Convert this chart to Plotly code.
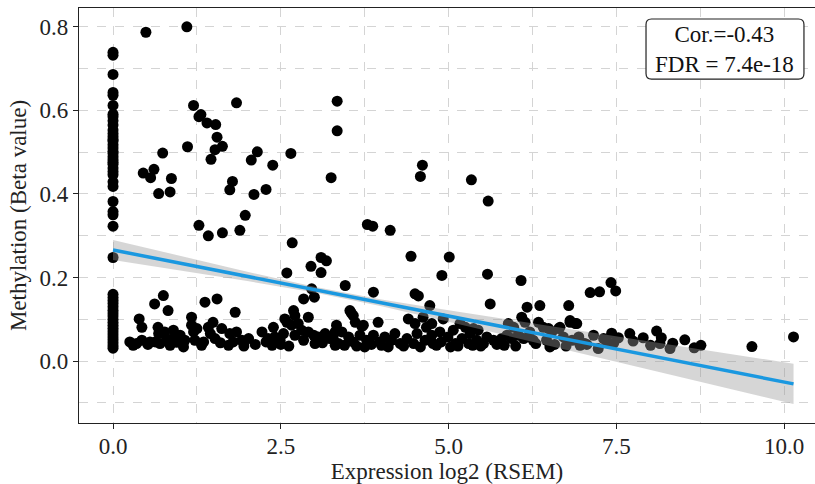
import plotly.graph_objects as go

# ---- data: samples with zero expression ----
expr_zero = [0.0] * 48
meth_zero = [0.739, 0.732, 0.686, 0.643, 0.636, 0.612, 0.591, 0.585, 0.575, 0.565,
             0.553, 0.545, 0.537, 0.530, 0.527, 0.518, 0.510, 0.502, 0.497, 0.489,
             0.482, 0.476, 0.471, 0.462, 0.454, 0.446, 0.429, 0.418, 0.382, 0.358,
             0.350, 0.323, 0.248, 0.160, 0.152, 0.145, 0.138, 0.130, 0.122, 0.115,
             0.108, 0.100, 0.093, 0.086, 0.079, 0.072, 0.058, 0.031]
expr_zero += [0.0, 0.0, 0.0, 0.0]
meth_zero += [0.065, 0.051, 0.044, 0.037]

# ---- data: highly methylated samples ----
expr_high = [0.49, 1.10, 1.20, 1.28, 1.31, 1.40, 1.53, 1.55, 1.63, 1.52,
             1.46, 1.11, 1.84, 0.74, 0.61, 0.45, 0.56, 0.87, 0.68, 0.85,
             2.15, 2.06, 2.38, 2.65, 1.78, 1.74, 2.10, 2.28, 1.97, 1.28,
             1.42, 1.63, 1.89, 2.67, 3.34, 3.34, 3.25, 4.61, 4.58, 5.34,
             5.59, 3.79, 3.87, 4.13, 4.44, 5.01, 2.59, 2.95, 3.10, 3.18,
             3.10, 4.90, 5.58, 6.08, 3.46, 3.88, 4.50, 4.55, 7.42, 7.11,
             7.25, 7.49]
meth_high = [0.787, 0.800, 0.612, 0.585, 0.590, 0.570, 0.566, 0.536, 0.514, 0.506,
             0.483, 0.513, 0.618, 0.498, 0.459, 0.450, 0.439, 0.437, 0.401, 0.405,
             0.501, 0.481, 0.469, 0.497, 0.430, 0.410, 0.399, 0.411, 0.349, 0.325,
             0.300, 0.307, 0.313, 0.283, 0.622, 0.551, 0.439, 0.469, 0.442, 0.434,
             0.383, 0.327, 0.323, 0.313, 0.251, 0.249, 0.211, 0.227, 0.248, 0.240,
             0.212, 0.205, 0.208, 0.193, 0.181, 0.165, 0.161, 0.156, 0.188, 0.164,
             0.166, 0.168]

# ---- data: low methylation band ----
expr_low = [0.75, 0.62, 0.82, 0.39, 0.43, 0.30, 0.25, 0.43, 0.55, 0.67,
            0.68, 0.77, 0.80, 0.90, 0.92, 0.70, 0.63, 0.85, 1.05, 1.07,
            1.17, 1.17, 1.20, 1.22, 1.25, 1.37, 1.55, 1.42, 1.49, 1.45,
            1.62, 1.52, 1.35, 1.82, 1.74, 1.84, 1.72, 1.79, 1.92, 2.02,
            2.22, 2.31, 2.39, 2.44, 2.37, 2.84, 3.00, 2.96, 2.69, 2.71,
            2.56, 2.59, 2.91, 2.66, 2.76, 2.81, 2.91, 2.99, 3.06, 3.16,
            3.23, 3.31, 3.31, 3.01, 2.41, 2.49, 2.54, 2.84, 2.71,
            3.53, 3.58, 3.61, 3.73, 3.95, 3.33, 3.41, 3.28, 3.36, 3.51,
            3.58, 3.68, 3.78, 3.75, 3.88, 3.98, 4.05, 4.15, 4.20, 4.10,
            4.28, 4.40, 4.38, 4.50, 4.53, 4.48, 4.62, 4.72, 4.67, 4.65,
            4.75, 4.77, 4.87, 4.92, 4.89, 4.99, 5.07, 5.10, 5.20, 5.17,
            5.25, 5.32, 5.30, 5.42, 5.44, 5.52, 5.62, 5.57, 5.67, 5.79,
            5.87, 5.89, 5.97, 5.94, 6.04, 6.09, 6.12, 6.17, 6.21, 6.26,
            6.34, 6.36, 6.41, 6.46, 6.51, 6.54, 6.66, 6.71, 6.79, 6.81,
            6.89, 6.84, 6.94, 3.55, 4.75, 5.37, 6.14, 6.49, 6.64, 3.71,
            6.91, 7.16, 7.31, 7.43, 7.53, 7.70, 7.75, 7.90, 8.01, 8.10,
            8.17, 8.15, 8.34, 8.30, 8.52, 8.66, 8.76, 9.52, 10.14, 6.96,
            7.03, 7.23, 7.36, 7.46, 6.81,
            0.35, 0.52, 0.95, 1.00, 1.32, 1.60, 1.95, 2.12, 2.28, 2.50,
            2.62, 3.12, 3.45, 3.63, 3.85, 4.00, 4.33, 4.58, 4.82, 5.03,
            5.14, 5.36, 5.48, 5.72, 5.83, 6.00, 6.30, 6.58, 6.75, 7.06]
meth_low = [0.157, 0.137, 0.121, 0.101, 0.081, 0.038, 0.046, 0.050, 0.046, 0.081,
            0.066, 0.070, 0.054, 0.074, 0.058, 0.042, 0.046, 0.038, 0.034, 0.050,
            0.105, 0.086, 0.070, 0.050, 0.078, 0.141, 0.149, 0.081, 0.093, 0.066,
            0.078, 0.054, 0.046, 0.117, 0.066, 0.070, 0.038, 0.046, 0.050, 0.054,
            0.070, 0.054, 0.081, 0.046, 0.038, 0.149, 0.153, 0.173, 0.121, 0.109,
            0.101, 0.093, 0.105, 0.086, 0.090, 0.074, 0.070, 0.062, 0.058, 0.066,
            0.054, 0.070, 0.038, 0.042, 0.058, 0.050, 0.066, 0.050, 0.062,
            0.121, 0.109, 0.093, 0.086, 0.093, 0.086, 0.070, 0.058, 0.042, 0.058,
            0.046, 0.062, 0.050, 0.034, 0.062, 0.046, 0.058, 0.050, 0.066, 0.034,
            0.042, 0.101, 0.054, 0.090, 0.066, 0.042, 0.105, 0.133, 0.081, 0.050,
            0.062, 0.042, 0.070, 0.101, 0.046, 0.058, 0.074, 0.042, 0.054, 0.090,
            0.081, 0.066, 0.042, 0.050, 0.074, 0.042, 0.137, 0.058, 0.050, 0.054,
            0.062, 0.090, 0.081, 0.054, 0.062, 0.105, 0.054, 0.129, 0.070, 0.050,
            0.093, 0.133, 0.081, 0.050, 0.034, 0.070, 0.081, 0.058, 0.133, 0.093,
            0.090, 0.050, 0.058, 0.115, 0.090, 0.078, 0.093, 0.078, 0.078, 0.083,
            0.090, 0.062, 0.054, 0.067, 0.056, 0.066, 0.048, 0.056, 0.038, 0.072,
            0.056, 0.042, 0.043, 0.030, 0.051, 0.032, 0.038, 0.035, 0.058, 0.038,
            0.042, 0.030, 0.046, 0.043, 0.097,
            0.042, 0.040, 0.045, 0.062, 0.038, 0.044, 0.036, 0.040, 0.046, 0.040,
            0.036, 0.044, 0.038, 0.036, 0.040, 0.038, 0.036, 0.034, 0.038, 0.034,
            0.036, 0.038, 0.036, 0.040, 0.038, 0.036, 0.042, 0.040, 0.036, 0.040]

# ---- linear fit with 95% confidence band ----
fit_x = [0, 1, 2, 3, 4, 5, 6, 7, 8, 9, 10.14]
fit_y = [0.266, 0.2344, 0.2028, 0.1712, 0.1396, 0.108, 0.0764, 0.0448, 0.0132, -0.0184, -0.0544]
fit_lo = [0.242, 0.2170, 0.1916, 0.1643, 0.1314, 0.0944, 0.0564, 0.0181, -0.0203, -0.0588, -0.1027]
fit_hi = [0.290, 0.2518, 0.2140, 0.1781, 0.1478, 0.1216, 0.0964, 0.0715, 0.0467, 0.0220, -0.0061]

x_ticks = [0, 2.5, 5, 7.5, 10]
x_tick_labels = ["0.0", "2.5", "5.0", "7.5", "10.0"]
y_ticks = [0, 0.2, 0.4, 0.6, 0.8]
y_tick_labels = ["0.0", "0.2", "0.4", "0.6", "0.8"]

stat_lines = ["Cor.=-0.43", "FDR = 7.4e-18"]

FONT = "Liberation Serif, Times New Roman, serif"
GRID = "#d4d4d4"

fig = go.Figure()
fig.add_trace(go.Scatter(
    x=expr_zero + expr_high + expr_low,
    y=meth_zero + meth_high + meth_low,
    mode="markers",
    marker=dict(size=11, color="black", line=dict(width=0)),
    hoverinfo="skip", showlegend=False))
fig.add_trace(go.Scatter(
    x=fit_x + fit_x[::-1], y=fit_hi + fit_lo[::-1],
    fill="toself", fillcolor="rgba(153,153,153,0.4)",
    line=dict(width=0), mode="lines", hoverinfo="skip", showlegend=False))
fig.add_trace(go.Scatter(
    x=fit_x, y=fit_y, mode="lines",
    line=dict(color="#1a98e0", width=3.5), hoverinfo="skip", showlegend=False))

# rounded box for the statistics label
x0, x1 = 0.7704, 0.985
y0, y1 = 0.8288, 0.9735
rx, ry = 0.0075, 0.0135
path = (f"M {x0+rx},{y0} L {x1-rx},{y0} Q {x1},{y0} {x1},{y0+ry} "
        f"L {x1},{y1-ry} Q {x1},{y1} {x1-rx},{y1} L {x0+rx},{y1} "
        f"Q {x0},{y1} {x0},{y1-ry} L {x0},{y0+ry} Q {x0},{y0} {x0+rx},{y0} Z")
fig.add_shape(type="path", path=path, xref="paper", yref="paper",
              line=dict(color="#222222", width=1.2), fillcolor="white", layer="above")
fig.add_annotation(x=(x0 + x1) / 2, y=(y0 + y1) / 2, xref="paper", yref="paper",
                   xanchor="center", yanchor="middle",
                   text="<br>".join(stat_lines), showarrow=False, align="center",
                   font=dict(family=FONT, size=23, color="#111111"))

axis_common = dict(
    showgrid=True, gridcolor=GRID, griddash="dash", gridwidth=1,
    zeroline=False, showline=True, linecolor="#222222", linewidth=1.3,
    ticks="outside", ticklen=5, tickcolor="#222222", tickwidth=1.2,
    tickfont=dict(family=FONT, size=23, color="#222222"),
)

fig.update_layout(
    width=815, height=484,
    margin=dict(l=79, r=0, t=8, b=61),
    paper_bgcolor="white", plot_bgcolor="white",
    font=dict(family=FONT),
    xaxis=dict(range=[-0.507, 10.46], tickvals=x_ticks, ticktext=x_tick_labels,
               mirror=True, ticklabelstandoff=-3,
               minor=dict(dtick=1.25, tick0=0, showgrid=True, gridcolor=GRID,
                          griddash="dash", gridwidth=1, ticks=""),
               title=dict(text="Expression log2 (RSEM)", standoff=2,
                          font=dict(family=FONT, size=23, color="#222222")),
               **axis_common),
    yaxis=dict(range=[-0.148, 0.845], tickvals=y_ticks, ticktext=y_tick_labels,
               mirror=False,
               minor=dict(dtick=0.1, tick0=0, showgrid=True, gridcolor=GRID,
                          griddash="dash", gridwidth=1, ticks=""),
               title=dict(text="Methylation (Beta value)", standoff=6,
                          font=dict(family=FONT, size=23, color="#222222")),
               **axis_common),
)

fig.write_html("out.html")
